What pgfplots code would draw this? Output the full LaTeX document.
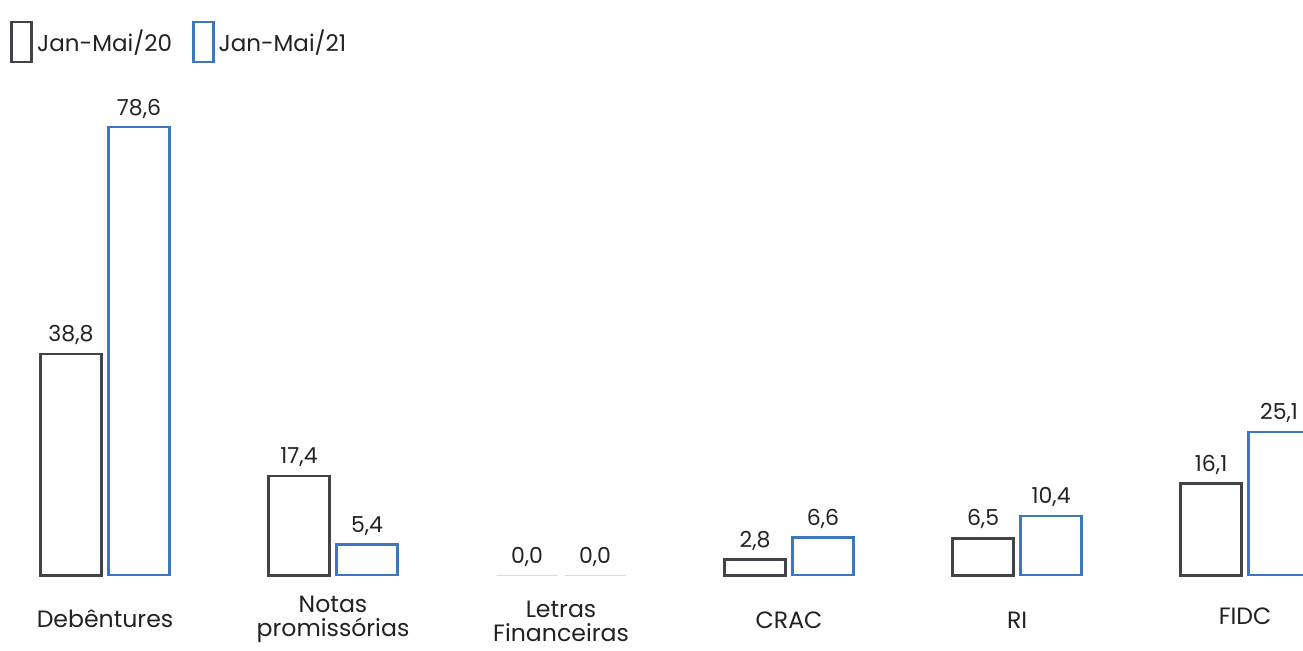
\documentclass[border=0pt]{standalone}
\usepackage{pgfplots}
\pgfplotsset{compat=1.18}
\usepackage{fontspec}
\setmainfont{Poppins}
\definecolor{darkbar}{HTML}{404448}
\definecolor{bluebar}{HTML}{3F76C0}
\definecolor{zeroline}{HTML}{D3DCE6}
\definecolor{txt}{HTML}{222222}
\begin{document}
\begin{tikzpicture}
\begin{axis}[
  x=114pt, y=2.85pt,
  xmin=-0.4605, xmax=5.254, ymin=-13.16, ymax=100.9,
  axis lines=none, clip=false,
  ybar, bar width=30.5pt,
  nodes near coords={\pgfmathprintnumber[fixed,fixed zerofill,precision=1,use comma,assume math mode=true]{\pgfplotspointmeta}},
  every node near coord/.append style={font=\fontsize{11}{13}\selectfont, text=txt, yshift=0.5pt},
  legend columns=2,
  legend style={at={(axis cs:-0.4167,97.37)}, anchor=north west, draw=none, fill=none,
    inner sep=0pt, font=\fontsize{11.5}{13}\selectfont, text=txt,
    /tikz/every even column/.append style={column sep=8pt}},
  legend image code/.code={\draw[#1, fill=none] (0pt,-10pt) rectangle (10pt,10pt);},
]
\addplot[draw=darkbar, line width=1.4pt, fill=white, bar shift=-17pt]
  coordinates {(0,38.8) (1,17.4) (3,2.8) (4,6.5) (5,16.1)};
\addplot[draw=bluebar, line width=1.3pt, fill=white, bar shift=17pt]
  coordinates {(0,78.6) (1,5.4) (3,6.6) (4,10.4) (5,25.1)};
\addplot[forget plot, draw=zeroline, line width=0.6pt, fill=none, bar shift=-17pt]
  coordinates {(2,0)};
\addplot[forget plot, draw=zeroline, line width=0.6pt, fill=none, bar shift=17pt]
  coordinates {(2,0)};
\legend{Jan-Mai/20, Jan-Mai/21}
\begin{scope}[every node/.style={font=\fontsize{11.8}{12}\selectfont, text=txt, align=center, anchor=center}]
\node at (axis cs:0,-7.72) {Debêntures};
\node at (axis cs:1,-7.72) {Notas\\promissórias};
\node at (axis cs:2,-8.1) {Letras\\Financeiras};
\node at (axis cs:3,-7.9) {CRAC};
\node at (axis cs:4,-7.9) {RI};
\node at (axis cs:5,-7.19) {FIDC};
\end{scope}
\coordinate (bbBL) at (axis cs:-0.4605,-13.16);
\coordinate (bbTR) at (axis cs:5.254,100.9);
\end{axis}
\pgfresetboundingbox
\useasboundingbox (bbBL) rectangle (bbTR);
\end{tikzpicture}
\end{document}
